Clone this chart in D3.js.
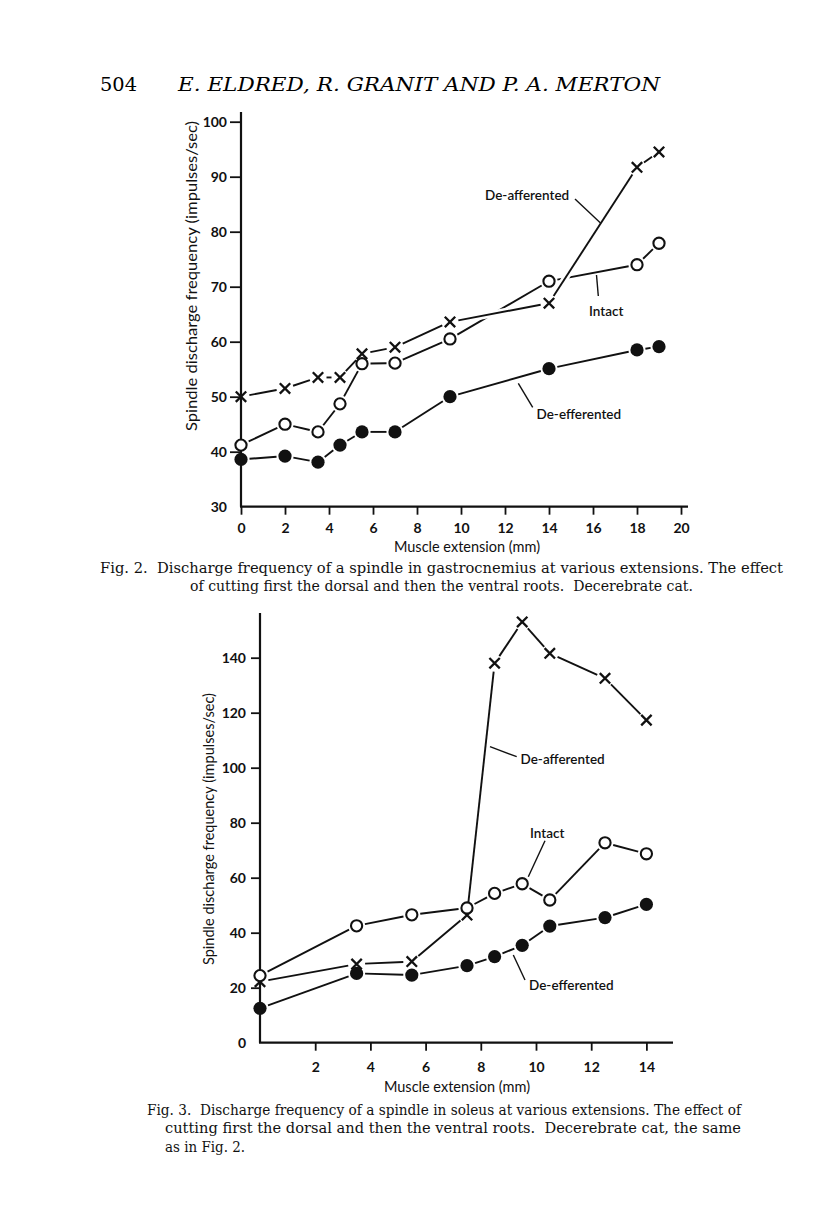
<!DOCTYPE html>
<html><head><meta charset="utf-8">
<script src="https://cdn.jsdelivr.net/npm/d3@7"></script>
<style>body{margin:0;background:#fff}svg{display:block}</style>
</head><body>
<script>
// ---------- Fig. 2 data (gastrocnemius) ----------
const fig2X = [0, 2, 3.5, 4.5, 5.5, 7, 9.5, 14, 18, 19];
const fig2Afferent = [50, 51.5, 53.5, 53.5, 57.8, 59, 63.6, 67, 91.7, 94.5];
const fig2Intact = [41.2, 45, 43.6, 48.7, 56, 56.1, 60.5, 71, 74, 77.9];
const fig2Efferent = [38.6, 39.2, 38.1, 41.2, 43.6, 43.6, 50, 55.1, 58.5, 59.1];
const fig2XTicks = [0, 2, 4, 6, 8, 10, 12, 14, 16, 18, 20];
const fig2YTicks = [30, 40, 50, 60, 70, 80, 90, 100];

// ---------- Fig. 3 data (soleus) ----------
const fig3X = [0, 3.5, 5.5, 7.5, 8.5, 9.5, 10.5, 12.5, 14];
const fig3Afferent = [22.2, 28.6, 29.5, 46.4, 138, 153, 141.6, 132.5, 117.3];
const fig3Intact = [24.4, 42.5, 46.5, 49, 54.3, 57.8, 51.9, 72.7, 68.7];
const fig3Efferent = [12.5, 25.2, 24.6, 28, 31.3, 35.4, 42.4, 45.5, 50.3];
const fig3XTicks = [2, 4, 6, 8, 10, 12, 14];
const fig3YTicks = [0, 20, 40, 60, 80, 100, 120, 140];

const yTitle = "Spindle discharge frequency (impulses/sec)";
const xTitle = "Muscle extension (mm)";

const W = 816, H = 1229;
const svg = d3.select("body").append("svg").attr("width", W).attr("height", H);
const SANS = "Lato, 'Open Sans', sans-serif";
const SERIF = "'DejaVu Serif', 'Liberation Serif', serif";

// header
svg.append("text").attr("x", 100).attr("y", 91).attr("font-family", SERIF)
  .attr("font-size", 19).attr("textLength", 37).attr("lengthAdjust", "spacingAndGlyphs").text("504");
svg.append("text").attr("x", 178).attr("y", 91).attr("font-family", SERIF).attr("font-style", "italic")
  .attr("font-size", 19).attr("textLength", 482).attr("lengthAdjust", "spacingAndGlyphs")
  .text("E. ELDRED, R. GRANIT AND P. A. MERTON");

function trimSeg(p, q, d) {
  const dx = q[0] - p[0], dy = q[1] - p[1], L = Math.hypot(dx, dy);
  if (L < 2 * d + 1) return null;
  const ux = dx / L, uy = dy / L;
  return [p[0] + ux * d, p[1] + uy * d, q[0] - ux * d, q[1] - uy * d];
}

function drawChart(cfg) {
  const g = svg.append("g");
  const x = d3.scaleLinear().domain(cfg.xDomain).range(cfg.xRange);
  const y = d3.scaleLinear().domain(cfg.yDomain).range(cfg.yRange);
  const x0 = cfg.xRange[0], y0 = cfg.yRange[0];

  // axes lines
  g.append("line").attr("x1", x0).attr("x2", x0).attr("y1", cfg.yTop).attr("y2", y0)
    .attr("stroke", "#111").attr("stroke-width", 2.2);
  g.append("line").attr("x1", x0 - 1).attr("x2", cfg.xEnd).attr("y1", y0).attr("y2", y0)
    .attr("stroke", "#111").attr("stroke-width", 2.2);

  const xa = d3.axisBottom(x).tickValues(cfg.xTicks).tickSize(8).tickPadding(cfg.xPad).tickFormat(d3.format("d"));
  const gx = g.append("g").attr("transform", `translate(0,${y0})`).call(xa);
  gx.select(".domain").remove();
  gx.selectAll("line").attr("stroke", "#111").attr("stroke-width", 1.8);
  gx.selectAll("text").attr("font-family", SANS).attr("font-weight", "bold").attr("font-size", 14).attr("fill", "#111");

  const ya = d3.axisLeft(y).tickValues(cfg.yTicks).tickSize(cfg.yTick).tickPadding(cfg.yPad).tickFormat(d3.format("d"));
  const gy = g.append("g").attr("transform", `translate(${x0},0)`).call(ya);
  gy.select(".domain").remove();
  gy.selectAll(".tick").filter(d => d === cfg.yDomain[0]).select("line").remove();
  gy.selectAll("line").attr("stroke", "#111").attr("stroke-width", 1.8);
  gy.selectAll("text").attr("font-family", SANS).attr("font-weight", "bold").attr("font-size", 14).attr("fill", "#111");

  // titles
  g.append("text").attr("x", cfg.xTitle[0]).attr("y", cfg.xTitle[1]).attr("text-anchor", "middle")
    .attr("font-family", SANS).attr("font-size", 14.5).attr("fill", "#111").text(xTitle);
  g.append("text").attr("transform", `translate(${cfg.yTitle[0]},${cfg.yTitle[1]}) rotate(-90)`)
    .attr("text-anchor", "middle").attr("dominant-baseline", "central")
    .attr("font-family", SANS).attr("font-size", 14.5).attr("fill", "#111")
    .attr("textLength", cfg.yTitle[2]).attr("lengthAdjust", "spacingAndGlyphs").text(yTitle);

  const pts = vals => cfg.xs.map((d, i) => [x(d), y(vals[i])]);
  const seg = (vals, halo) => {
    const p = pts(vals);
    for (let i = 0; i < p.length - 1; i++) {
      const s = trimSeg(p[i], p[i + 1], 8.5);
      if (!s) continue;
      if (halo) g.append("line").attr("x1", s[0]).attr("y1", s[1]).attr("x2", s[2]).attr("y2", s[3])
        .attr("stroke", "#fff").attr("stroke-width", 7);
      g.append("line").attr("x1", s[0]).attr("y1", s[1]).attr("x2", s[2]).attr("y2", s[3])
        .attr("stroke", "#111").attr("stroke-width", 1.9);
    }
  };
  seg(cfg.intact, false);
  seg(cfg.efferent, false);
  seg(cfg.afferent, true);

  // markers
  pts(cfg.afferent).forEach(([px, py]) => {
    const s = 5.2;
    g.append("path").attr("d", `M${px - s},${py - s}L${px + s},${py + s}M${px - s},${py + s}L${px + s},${py - s}`)
      .attr("stroke", "#111").attr("stroke-width", 2.3).attr("fill", "none");
  });
  pts(cfg.intact).forEach(([px, py]) => {
    g.append("circle").attr("cx", px).attr("cy", py).attr("r", 5.6).attr("fill", "#fff")
      .attr("stroke", "#111").attr("stroke-width", 2.1);
  });
  pts(cfg.efferent).forEach(([px, py]) => {
    g.append("circle").attr("cx", px).attr("cy", py).attr("r", 6.6).attr("fill", "#111");
  });

  // annotations
  cfg.notes.forEach(n => {
    g.append("line").attr("x1", n.l[0]).attr("y1", n.l[1]).attr("x2", n.l[2]).attr("y2", n.l[3])
      .attr("stroke", "#111").attr("stroke-width", 1.4);
    g.append("text").attr("x", n.t[0]).attr("y", n.t[1]).attr("font-family", SANS).attr("font-weight", 600)
      .attr("font-size", 13.5).attr("fill", "#111").attr("dominant-baseline", "central").text(n.text);
  });
}

drawChart({
  xDomain: [0, 20], xRange: [241, 681], yDomain: [30, 100], yRange: [506.7, 121.7],
  yTop: 112, xEnd: 688, xTicks: fig2XTicks, yTicks: fig2YTicks, xPad: 8, yTick: 11, yPad: 3,
  xs: fig2X, afferent: fig2Afferent, intact: fig2Intact, efferent: fig2Efferent,
  xTitle: [467, 552], yTitle: [191, 276, 310],
  notes: [
    {text: "De-afferented", t: [485, 195], l: [575, 199, 600.5, 223]},
    {text: "Intact", t: [589, 311], l: [596.5, 275, 598.3, 296]},
    {text: "De-efferented", t: [536.5, 414], l: [518.3, 383.3, 532.7, 407.3]}
  ]
});

drawChart({
  xDomain: [0, 14], xRange: [260, 646.4], yDomain: [0, 140], yRange: [1042.7, 657.7],
  yTop: 613, xEnd: 673, xTicks: fig3XTicks, yTicks: fig3YTicks, xPad: 11, yTick: 9, yPad: 5,
  xs: fig3X, afferent: fig3Afferent, intact: fig3Intact, efferent: fig3Efferent,
  xTitle: [457, 1092], yTitle: [208, 829, 272],
  notes: [
    {text: "De-afferented", t: [520.5, 759], l: [490, 746.7, 516.7, 756.7]},
    {text: "Intact", t: [530, 833], l: [545, 840.7, 528.3, 876.7]},
    {text: "De-efferented", t: [529, 985], l: [513.3, 955, 525, 980]}
  ]
});

// captions
const caps = [
  {x: 100, y: 573, w: 683, s: "Fig. 2.  Discharge frequency of a spindle in gastrocnemius at various extensions. The effect"},
  {x: 190, y: 591, w: 503, s: "of cutting first the dorsal and then the ventral roots.  Decerebrate cat."},
  {x: 147, y: 1115, w: 594, s: "Fig. 3.  Discharge frequency of a spindle in soleus at various extensions. The effect of"},
  {x: 165, y: 1133, w: 576, s: "cutting first the dorsal and then the ventral roots.  Decerebrate cat, the same"},
  {x: 165, y: 1152, w: 80, s: "as in Fig. 2."}
];
caps.forEach(c => {
  svg.append("text").attr("x", c.x).attr("y", c.y).attr("font-family", SERIF).attr("font-size", 14)
    .attr("fill", "#111").attr("textLength", c.w).attr("lengthAdjust", "spacingAndGlyphs")
    .attr("xml:space", "preserve").style("white-space", "pre").text(c.s);
});
</script>
</body></html>
